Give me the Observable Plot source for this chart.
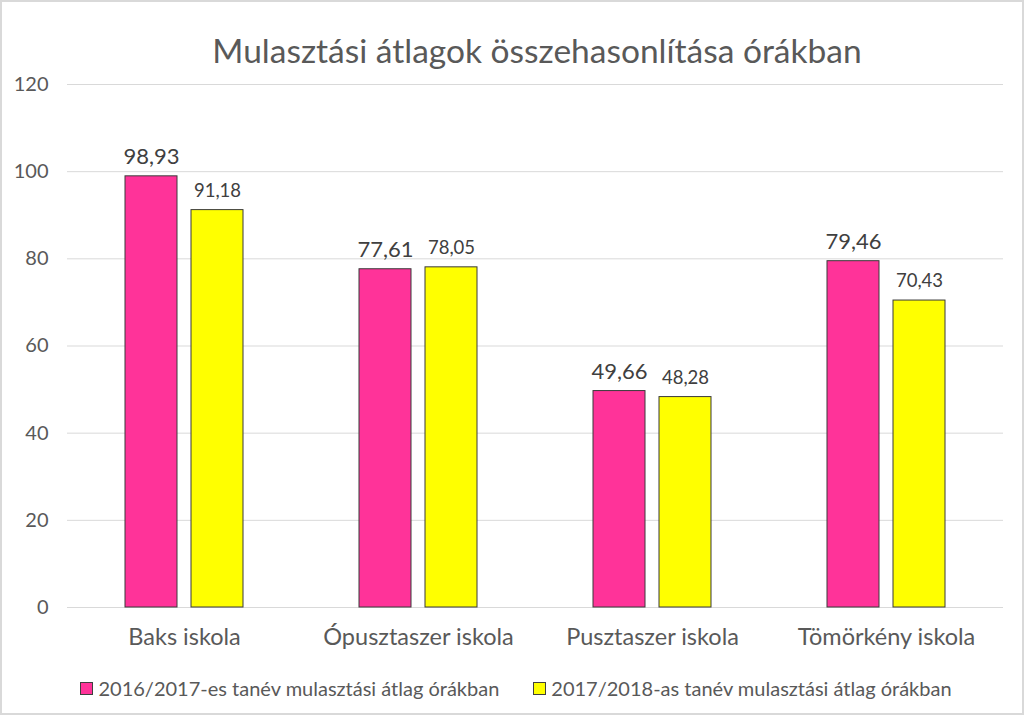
<!DOCTYPE html>
<html><head><meta charset="utf-8">
<script src="https://cdn.jsdelivr.net/npm/d3@7"></script>
<script src="https://cdn.jsdelivr.net/npm/@observablehq/plot@0.6"></script>
<style>
html,body{margin:0;padding:0;background:#fff;}
#box{position:relative;width:1024px;height:715px;box-sizing:border-box;border:2px solid #d9d9d9;font-family:Lato,"Open Sans",sans-serif;overflow:hidden;}
#title{position:absolute;top:27px;left:0;width:1020px;padding-left:50px;box-sizing:border-box;text-align:center;font-size:33.5px;color:#595959;line-height:42px;}
#chart{position:absolute;top:68px;left:0;}
#legend{position:absolute;top:673px;left:0;width:1020px;display:flex;justify-content:center;gap:34px;font-size:20px;color:#595959;line-height:26px;padding-left:8px;box-sizing:border-box;}
.item{display:flex;align-items:center;gap:5px;}
.sw{width:11px;height:11px;border:1px solid #404040;display:inline-block;}
</style>
</head><body>
<div id="box">
  <div id="title">Mulasztási átlagok összehasonlítása órákban</div>
  <div id="chart"></div>
  <div id="legend"></div>
</div>
<script>
const categories = ["Baks iskola", "Ópusztaszer iskola", "Pusztaszer iskola", "Tömörkény iskola"];
const series = ["2016/2017-es tanév mulasztási átlag órákban", "2017/2018-as tanév mulasztási átlag órákban"];
const values1617 = [98.93, 77.61, 49.66, 79.46];
const values1718 = [91.18, 78.05, 48.28, 70.43];
const yTicks = [0, 20, 40, 60, 80, 100, 120];
const colors = ["#FF3399", "#FFFF00"];

const rows = [];
categories.forEach((c, i) => {
  rows.push({cat: c, series: series[0], value: values1617[i]});
  rows.push({cat: c, series: series[1], value: values1718[i]});
});
const fmt = v => d3.format(".2f")(v).replace(".", ",");

const chart = Plot.plot({
  width: 1020,
  height: 595,
  marginLeft: 64,
  marginRight: 18,
  marginTop: 14,
  marginBottom: 58,
  style: {fontFamily: "Lato, 'Open Sans', sans-serif", background: "#fff"},
  fx: {domain: categories, padding: 0, label: null},
  x: {domain: series, paddingInner: 0.209, paddingOuter: 0.851, axis: null},
  y: {domain: [0, 120], label: null},
  color: {domain: series, range: colors},
  marks: [
    Plot.ruleY(yTicks, {stroke: "#d9d9d9", strokeWidth: 1}),
    Plot.barY(rows, {fx: "cat", x: "series", y: "value", fill: "series", stroke: "#3a3a3a", strokeWidth: 1}),
    Plot.text(rows.filter(d => d.series === series[0]), {fx: "cat", x: "series", y: "value", text: d => fmt(d.value), dy: -19, fontSize: 22, fill: "#404040"}),
    Plot.text(rows.filter(d => d.series === series[1]), {fx: "cat", x: "series", y: "value", text: d => fmt(d.value), dy: -19, fontSize: 18.5, fill: "#404040"}),
    Plot.axisY({ticks: yTicks, tickSize: 0, tickPadding: 19, fontSize: 20, fill: "#595959", label: null}),
    Plot.axisFx({anchor: "bottom", tickSize: 0, tickPadding: 21, fontSize: 23.5, fill: "#595959", label: null})
  ]
});
document.getElementById("chart").appendChild(chart);

const legend = document.getElementById("legend");
series.forEach((s, i) => {
  const it = document.createElement("div");
  it.className = "item";
  const sw = document.createElement("span");
  sw.className = "sw";
  sw.style.background = colors[i];
  const t = document.createElement("span");
  t.textContent = s;
  it.appendChild(sw); it.appendChild(t);
  legend.appendChild(it);
});
</script>
</body></html>
